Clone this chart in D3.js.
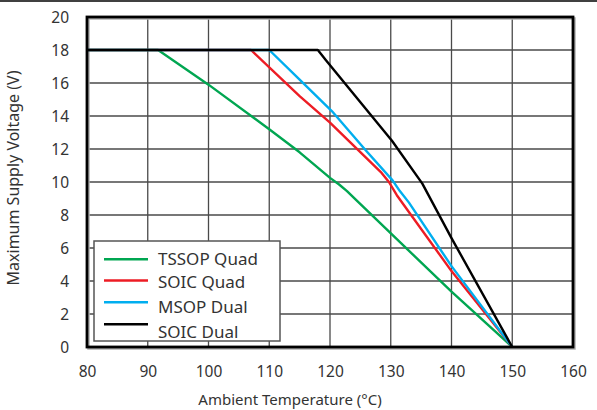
<!DOCTYPE html>
<html><head><meta charset="utf-8">
<script src="https://cdn.jsdelivr.net/npm/d3@7"></script>
<style>
html,body{margin:0;padding:0;background:#fff;}
text{font-family:"Noto Sans","Open Sans",sans-serif;fill:#333;}
</style></head>
<body><svg id="c" width="597" height="410"></svg>
<script>
// ---- data ----
const xTicks = [80, 90, 100, 110, 120, 130, 140, 150, 160];
const yTicks = [0, 2, 4, 6, 8, 10, 12, 14, 16, 18, 20];
const seriesNames = ["TSSOP Quad", "SOIC Quad", "MSOP Dual", "SOIC Dual"];
const seriesColors = ["#00a651", "#ed1c24", "#00aeef", "#000000"];
const tssopQuad = [[80,18],[91.7,18],[100,15.9],[110,13.2],[115,11.8],[120,10.25],[121.5,9.85],[122.8,9.45],[124.2,8.95],[140,3.35],[150,0]];
const soicQuad  = [[80,18],[107,18],[115,15.2],[120,13.6],[128.5,10.55],[129.7,10.0],[131,9.2],[140,4.6],[150,0]];
const msopDual  = [[80,18],[110,18],[115,16.2],[120.3,14.3],[125.8,11.95],[130.3,10.1],[131.5,9.45],[133,8.75],[140,4.9],[150,0]];
const soicDual  = [[80,18],[118,18],[119.3,17.4],[130.2,12.5],[135.2,9.9],[140,6.6],[150,0]];
const seriesData = [tssopQuad, soicQuad, msopDual, soicDual];
const xTitle = "Ambient Temperature (°C)";
const yTitle = "Maximum Supply Voltage (V)";

// ---- layout ----
const L = 87, R = 573, T = 17, B = 347;
const svg = d3.select("#c");
const x = d3.scaleLinear().domain([80, 160]).range([L, R]);
const y = d3.scaleLinear().domain([0, 20]).range([B, T]);

// top rule
svg.append("line").attr("x1", 0).attr("x2", 597).attr("y1", 1).attr("y2", 1)
  .attr("stroke", "#000").attr("stroke-width", 1.5);

// grid
const g = svg.append("g");
g.selectAll(".vg").data(xTicks.slice(1, -1)).join("line")
  .attr("x1", d => x(d)).attr("x2", d => x(d)).attr("y1", T).attr("y2", B)
  .attr("stroke", "#4a4a4a").attr("stroke-width", 1.3);
g.selectAll(".hg").data(yTicks.slice(1, -1)).join("line")
  .attr("x1", L).attr("x2", R).attr("y1", d => y(d)).attr("y2", d => y(d))
  .attr("stroke", "#4a4a4a").attr("stroke-width", 1.3);

// shadow + frame
svg.append("rect").attr("x", L + 1.5).attr("y", T + 1.5).attr("width", R - L).attr("height", B - T)
  .attr("fill", "none").attr("stroke", "#b0b0b0").attr("stroke-width", 2.5);

// lines
const line = d3.line().x(d => x(d[0])).y(d => y(d[1]));
seriesData.forEach((s, i) => {
  svg.append("path").datum(s).attr("d", line).attr("fill", "none")
    .attr("stroke", seriesColors[i]).attr("stroke-width", 2.4)
    .attr("stroke-linejoin", "round");
});

svg.append("rect").attr("x", L).attr("y", T).attr("width", R - L).attr("height", B - T)
  .attr("fill", "none").attr("stroke", "#000").attr("stroke-width", 2.8);

// axes labels
const xAxis = d3.axisBottom(x).tickValues(xTicks).tickSize(0).tickPadding(0);
const xa = svg.append("g").attr("transform", `translate(0,${B})`).call(xAxis);
xa.select(".domain").remove();
xa.selectAll("text").attr("dy", null).attr("y", 29.5).style("font-size", "15.5px")
  .style("font-family", '"Noto Sans",sans-serif').attr("fill", "#333");

const yAxis = d3.axisLeft(y).tickValues(yTicks).tickSize(0).tickPadding(0);
const ya = svg.append("g").attr("transform", `translate(69,0)`).call(yAxis);
ya.select(".domain").remove();
ya.selectAll("text").attr("x", 0).attr("dy", "0.35em").style("font-size", "15.5px")
  .style("font-family", '"Noto Sans",sans-serif').attr("fill", "#333");

svg.append("text").attr("x", 290).attr("y", 405).attr("text-anchor", "middle")
  .style("font-size", "15px").text(xTitle);
svg.append("text").attr("transform", "translate(19,178) rotate(-90)").attr("text-anchor", "middle")
  .style("font-size", "16px").text(yTitle);

// legend
const lg = svg.append("g");
lg.append("rect").attr("x", 94).attr("y", 241).attr("width", 186).attr("height", 100)
  .attr("fill", "#fff").attr("stroke", "#555").attr("stroke-width", 1.5);
const lineYs = [259.3, 280.5, 302.3, 324.3];
const textYs = [265, 288, 312.5, 337.5];
seriesNames.forEach((n, i) => {
  lg.append("line").attr("x1", 104).attr("x2", 148).attr("y1", lineYs[i]).attr("y2", lineYs[i])
    .attr("stroke", seriesColors[i]).attr("stroke-width", 2.4);
  lg.append("text").attr("x", 158).attr("y", textYs[i]).style("font-size", "17px").text(n);
});
</script></body></html>
